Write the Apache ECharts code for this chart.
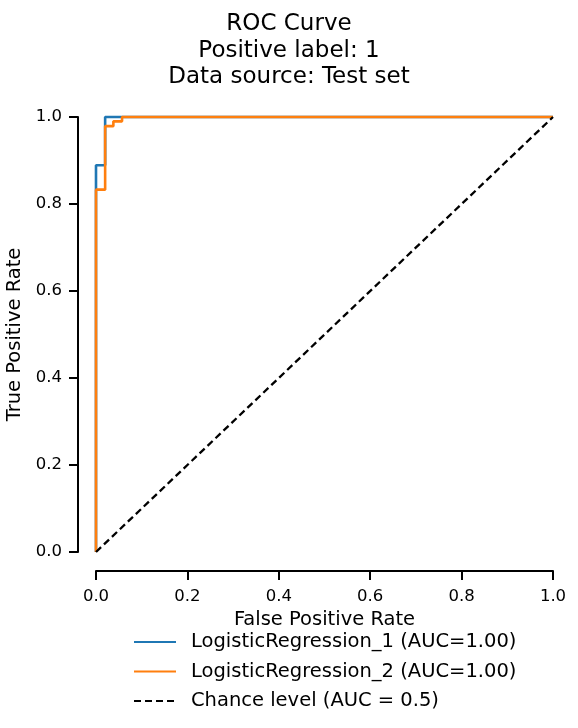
<!DOCTYPE html>
<html>
<head>
<meta charset="utf-8">
<script src="https://cdn.jsdelivr.net/npm/echarts@6/dist/echarts.min.js"></script>
<style>html,body{margin:0;padding:0;background:#fff;}#c{width:578px;height:728px;}</style>
</head>
<body>
<div id="c"></div>
<script>
var titleLines = ["ROC Curve", "Positive label: 1", "Data source: Test set"];
var xTicks = [0, 0.2, 0.4, 0.6, 0.8, 1.0];
var seriesNames = ["LogisticRegression_1 (AUC=1.00)", "LogisticRegression_2 (AUC=1.00)", "Chance level (AUC = 0.5)"];
var lr1Fpr = [0, 0, 0.02, 0.02, 1];
var lr1Tpr = [0, 0.889, 0.889, 1, 1];
var lr2Fpr = [0, 0, 0.02, 0.02, 0.038, 0.038, 0.057, 0.057, 1];
var lr2Tpr = [0, 0.833, 0.833, 0.979, 0.979, 0.99, 0.99, 1, 1];
var chanceFpr = [0, 1];
var chanceTpr = [0, 1];

function zip(a, b) { return a.map(function (v, i) { return [v, b[i]]; }); }

var FONT = 'DejaVu Sans';
var chart = echarts.init(document.getElementById('c'), null, {renderer: 'canvas'});
var axisCommon = {
  type: 'value', min: 0, max: 1, interval: 0.2,
  nameLocation: 'middle',
  nameTextStyle: {fontFamily: FONT, fontSize: 19.5, color: '#000'},
  axisLine: {show: true, onZero: false, lineStyle: {color: '#000', width: 2}},
  axisTick: {show: true, length: 9, lineStyle: {color: '#000', width: 2}},
  axisLabel: {fontFamily: FONT, fontSize: 16.5, color: '#000', formatter: function (v) { return v.toFixed(1); }},
  splitLine: {show: false}
};
chart.setOption({
  animation: false,
  backgroundColor: '#fff',
  title: {
    text: titleLines.join('\n'), left: 'center', top: 6,
    textStyle: {fontFamily: FONT, fontSize: 23, fontWeight: 'normal', color: '#000', lineHeight: 26.5}
  },
  grid: {left: 96, right: 25, top: 117, bottom: 176, containLabel: false, outerBoundsMode: 'none'},
  xAxis: Object.assign({}, axisCommon, {
    name: 'False Positive Rate', nameGap: 39, offset: 19,
    axisLabel: Object.assign({}, axisCommon.axisLabel, {margin: 17})
  }),
  yAxis: Object.assign({}, axisCommon, {
    name: 'True Positive Rate', nameGap: 51, offset: 18,
    axisLabel: Object.assign({}, axisCommon.axisLabel, {margin: 16})
  }),
  legend: {
    orient: 'vertical', left: 128, top: 626,
    itemWidth: 42, itemHeight: 14, itemGap: 7.5,
    itemStyle: {color: 'transparent', borderWidth: 0, opacity: 0},
    textStyle: {fontFamily: FONT, fontSize: 19.5, color: '#000', lineHeight: 22, padding: [0, 0, 0, 10]},
    data: seriesNames
  },
  series: [
    {name: seriesNames[0], type: 'line', data: zip(lr1Fpr, lr1Tpr), symbol: 'none', clip: false,
     lineStyle: {color: '#1f77b4', width: 2.6}, itemStyle: {color: '#1f77b4'}},
    {name: seriesNames[1], type: 'line', data: zip(lr2Fpr, lr2Tpr), symbol: 'none', clip: false,
     lineStyle: {color: '#ff7f0e', width: 2.6}, itemStyle: {color: '#ff7f0e'}},
    {name: seriesNames[2], type: 'line', data: zip(chanceFpr, chanceTpr), symbol: 'none', clip: false,
     lineStyle: {color: '#000', width: 2.3, type: [7, 4]}, itemStyle: {color: '#000'}}
  ]
});
</script>
</body>
</html>
